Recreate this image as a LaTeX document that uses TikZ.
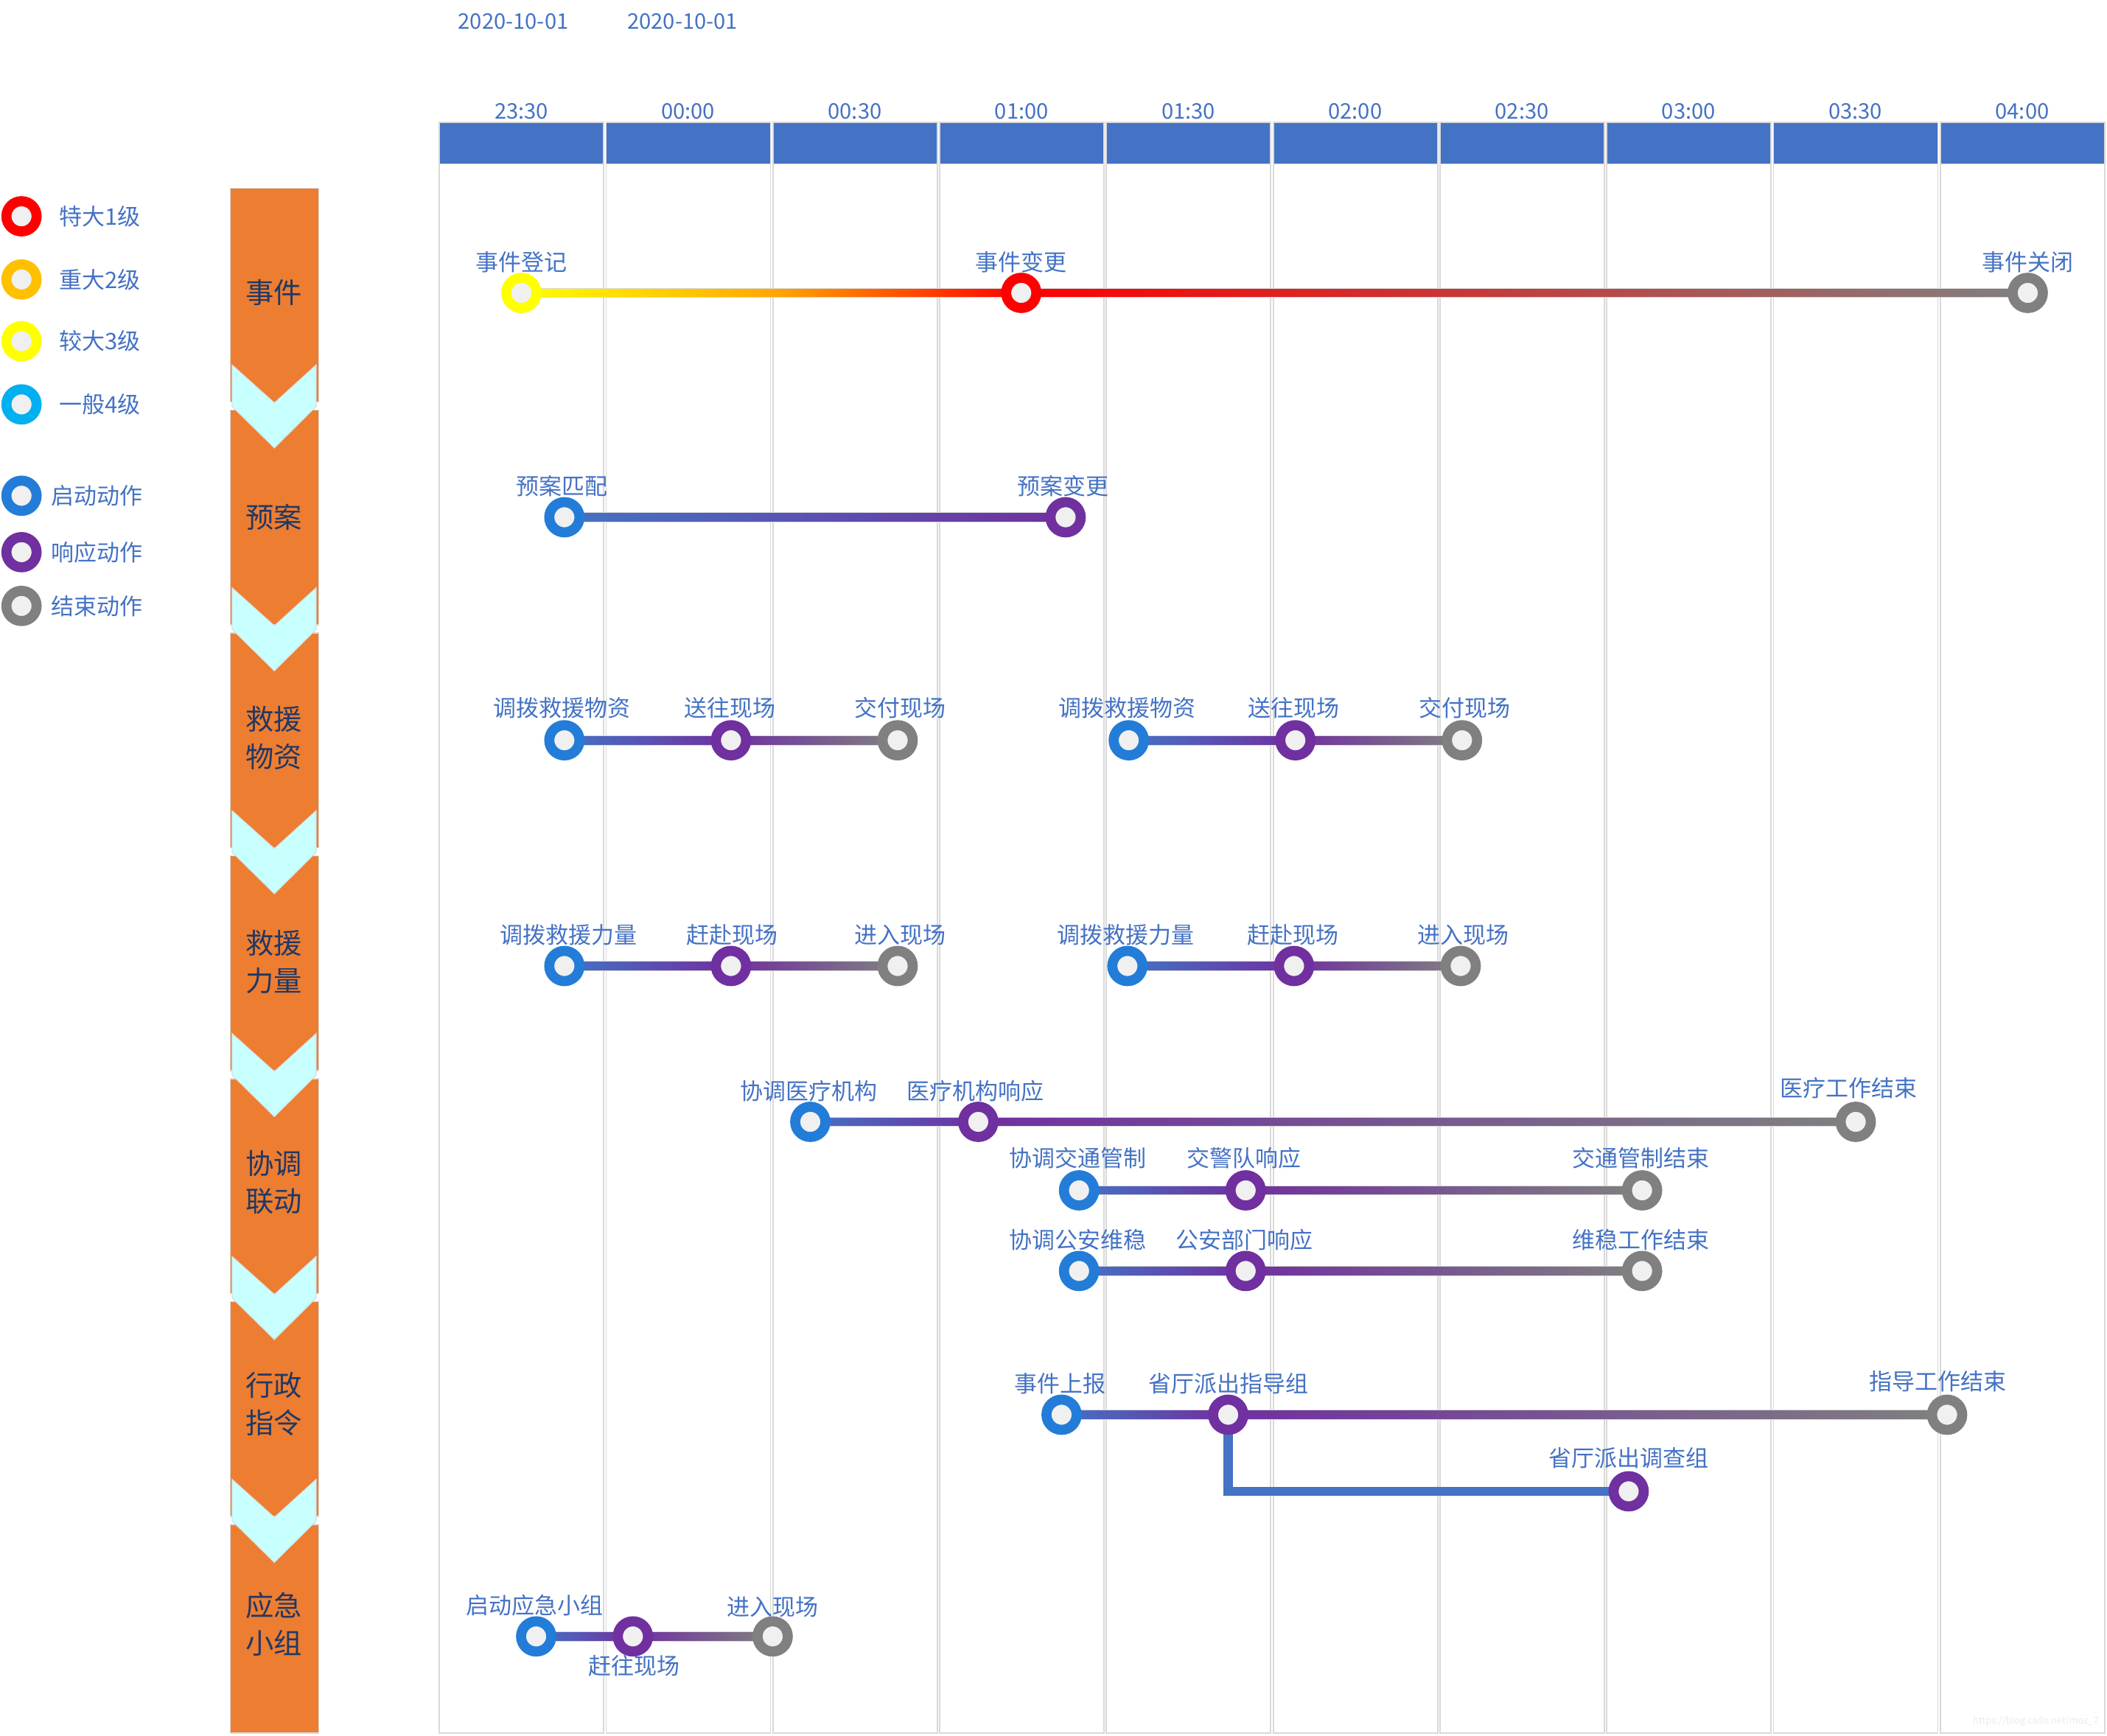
\documentclass[tikz,border=0pt]{standalone}
\usepackage{fontspec}
\setmainfont{Noto Sans CJK SC}
\usetikzlibrary{calc}
\pgfdeclarelayer{bg}
\pgfdeclarelayer{mid}
\pgfsetlayers{bg,mid,main}
\definecolor{hdr}{HTML}{4472C4}
\definecolor{txt}{HTML}{4472C4}
\definecolor{navy}{HTML}{203864}
\definecolor{org}{HTML}{ED7D31}
\definecolor{cyn}{HTML}{C8FFFF}
\definecolor{gridc}{HTML}{D9D9D9}
\definecolor{mblue}{HTML}{237DD8}
\definecolor{mpurp}{HTML}{7030A0}
\definecolor{mgray}{HTML}{808080}
\definecolor{mred}{HTML}{FF0000}
\definecolor{mora}{HTML}{FFC000}
\definecolor{myel}{HTML}{FFFF00}
\definecolor{mcya}{HTML}{00B0F0}
\definecolor{innerc}{HTML}{F0F0F0}
\definecolor{lblue}{HTML}{4472C4}
\definecolor{midora}{HTML}{FFA800}
\begin{document}
\begin{tikzpicture}[x=1pt,y=-1pt,
  mk/.style={circle, draw=#1, line width=7.5pt, fill=innerc, minimum size=22.5pt, inner sep=0pt},
  lbl/.style={text=txt, font=\fontsize{17}{20}\selectfont, inner sep=0pt},
  tlbl/.style={text=txt, font=\fontsize{16}{19}\selectfont, inner sep=0pt},
  rowl/.style={text=navy, font=\fontsize{21}{28}\selectfont, align=center, inner sep=0pt},
  legt/.style={text=txt, font=\fontsize{17}{20}\selectfont, inner sep=0pt, anchor=west},
  ln/.style={draw=gridc, line width=0.6pt},
  colbox/.style={draw=gridc, line width=1pt},
  hdrbox/.style={fill=hdr, draw=gridc, line width=1pt},
  orgbox/.style={fill=org, draw=gridc, line width=0.8pt},
  chev/.style={fill=cyn, draw=gridc, line width=0.6pt},
  branch/.style={draw=lblue, line width=7pt}]
\useasboundingbox (0,0) rectangle (1568,1292);

% ---------- grid columns ----------
\begin{pgfonlayer}{bg}
\foreach \i in {0,...,9}{
  \pgfmathsetmacro\xl{327+124.1*\i}
  \pgfmathsetmacro\xr{\xl+122.3}
  \draw[colbox] (\xl,91) rectangle (\xr,1290);
  \filldraw[hdrbox] (\xl,91) rectangle (\xr,122);
}
\end{pgfonlayer}

% dates
\node[tlbl] (d1) at (382,16) {2020-10-01};
\node[tlbl] (d2) at (508,16) {2020-10-01};

% time labels
\foreach \t [count=\i from 0] in {23:30,00:00,00:30,01:00,01:30,02:00,02:30,03:00,03:30,04:00}{
  \node[tlbl] (t\i) at (388+124.1*\i,83) {\t};
}

% ---------- left process column ----------
\foreach \k in {0,...,6}{
  \pgfmathsetmacro\ys{\k==0 ? 140 : 305.3+(\k-1)*165.9}
  \pgfmathsetmacro\ye{\k==6 ? 1290 : 299.2+\k*165.9}
  \filldraw[orgbox] (171.3,\ys) rectangle (237.1,\ye);
}
\foreach \i in {0,...,5}{
  \pgfmathsetmacro\T{271.5+165.9*\i}
  \filldraw[chev] (172.7,\T) -- (204.2,\T+28.3) -- (235.3,\T) -- (235.3,\T+31)
     -- (204.2,\T+62) -- (172.7,\T+31) -- cycle;
}
\node[rowl] (r1) at (204,218) {事件};
\node[rowl] (r2) at (204,385) {预案};
\node[rowl] (r3) at (204,549) {救援\\物资};
\node[rowl] (r4) at (204,716) {救援\\力量};
\node[rowl] (r5) at (204,880) {协调\\联动};
\node[rowl] (r6) at (204,1045) {行政\\指令};
\node[rowl] (r7) at (204,1209) {应急\\小组};

% ---------- legend ----------
\node[mk=mred]  (lg1) at (16,161) {};
\node[mk=mora]  (lg2) at (16,208) {};
\node[mk=myel]  (lg3) at (16,254) {};
\node[mk=mcya]  (lg4) at (16,301) {};
\node[mk=mblue] (lg5) at (16,369) {};
\node[mk=mpurp] (lg6) at (16,411) {};
\node[mk=mgray] (lg7) at (16,451) {};
\node[legt] (lt1) at (44,161) {特大1级};
\node[legt] (lt2) at (44,208) {重大2级};
\node[legt] (lt3) at (44,254) {较大3级};
\node[legt] (lt4) at (44,301) {一般4级};
\node[legt] (lt5) at (38,369) {启动动作};
\node[legt] (lt6) at (38,411) {响应动作};
\node[legt] (lt7) at (38,451) {结束动作};

% ---------- markers ----------
% 事件
\node[mk=myel]  (e1) at (388,218) {};
\node[mk=mred]  (e2) at (760,218) {};
\node[mk=mgray] (e3) at (1509,218) {};
\node[lbl] (le1) at (388,195) {事件登记};
\node[lbl] (le2) at (760,195) {事件变更};
\node[lbl] (le3) at (1509,195) {事件关闭};
% 预案
\node[mk=mblue] (p1) at (420,385) {};
\node[mk=mpurp] (p2) at (793,385) {};
\node[lbl] (lp1) at (418,362) {预案匹配};
\node[lbl] (lp2) at (791,362) {预案变更};
% 救援物资
\node[mk=mblue] (m1) at (420,551) {};
\node[mk=mpurp] (m2) at (544,551) {};
\node[mk=mgray] (m3) at (668,551) {};
\node[mk=mblue] (m4) at (840,551) {};
\node[mk=mpurp] (m5) at (964,551) {};
\node[mk=mgray] (m6) at (1088,551) {};
\node[lbl] (lm1) at (418,527) {调拨救援物资};
\node[lbl] (lm2) at (543,527) {送往现场};
\node[lbl] (lm3) at (670,527) {交付现场};
\node[lbl] (lm4) at (839,527) {调拨救援物资};
\node[lbl] (lm5) at (963,527) {送往现场};
\node[lbl] (lm6) at (1090,527) {交付现场};
% 救援力量
\node[mk=mblue] (f1) at (420,719) {};
\node[mk=mpurp] (f2) at (544,719) {};
\node[mk=mgray] (f3) at (668,719) {};
\node[mk=mblue] (f4) at (839,719) {};
\node[mk=mpurp] (f5) at (963,719) {};
\node[mk=mgray] (f6) at (1087,719) {};
\node[lbl] (lf1) at (423,696) {调拨救援力量};
\node[lbl] (lf2) at (545,696) {赶赴现场};
\node[lbl] (lf3) at (670,696) {进入现场};
\node[lbl] (lf4) at (838,696) {调拨救援力量};
\node[lbl] (lf5) at (962,696) {赶赴现场};
\node[lbl] (lf6) at (1089,696) {进入现场};
% 协调联动
\node[mk=mblue] (a1) at (603,835) {};
\node[mk=mpurp] (a2) at (728,835) {};
\node[mk=mgray] (a3) at (1381,835) {};
\node[lbl] (la1) at (602,812) {协调医疗机构};
\node[lbl] (la2) at (726,812) {医疗机构响应};
\node[lbl] (la3) at (1376,810) {医疗工作结束};
\node[mk=mblue] (b1) at (803,886) {};
\node[mk=mpurp] (b2) at (927,886) {};
\node[mk=mgray] (b3) at (1222,886) {};
\node[lbl] (lb1) at (802,862) {协调交通管制};
\node[lbl] (lb2) at (926,862) {交警队响应};
\node[lbl] (lb3) at (1221,862) {交通管制结束};
\node[mk=mblue] (c1) at (803,946) {};
\node[mk=mpurp] (c2) at (927,946) {};
\node[mk=mgray] (c3) at (1222,946) {};
\node[lbl] (lc1) at (802,923) {协调公安维稳};
\node[lbl] (lc2) at (926,923) {公安部门响应};
\node[lbl] (lc3) at (1221,923) {维稳工作结束};
% 行政指令
\node[mk=mblue] (x1) at (790,1053) {};
\node[mk=mpurp] (x2) at (914,1053) {};
\node[mk=mgray] (x3) at (1449,1053) {};
\node[mk=mpurp] (x4) at (1212,1110) {};
\node[lbl] (lx1) at (789,1030) {事件上报};
\node[lbl] (lx2) at (914,1030) {省厅派出指导组};
\node[lbl] (lx3) at (1442,1028) {指导工作结束};
\node[lbl] (lx4) at (1212,1085) {省厅派出调查组};
% 应急小组
\node[mk=mblue] (g1) at (399,1218) {};
\node[mk=mpurp] (g2) at (471,1218) {};
\node[mk=mgray] (g3) at (575,1218) {};
\node[lbl] (lg1t) at (398,1195) {启动应急小组};
\node[lbl] (lg2t) at (472,1240) {赶往现场};
\node[lbl] (lg3t) at (575,1196) {进入现场};

% ---------- connectors ----------
\begin{pgfonlayer}{mid}
\shadedraw[ln, left color=myel, right color=mred, middle color=midora] ($(e1.center)+(0,-3.5)$) rectangle ($(e2.center)+(0,3.5)$);
\shadedraw[ln, left color=mred, right color=mgray] ($(e2.center)+(0,-3.5)$) rectangle ($(e3.center)+(0,3.5)$);
\shadedraw[ln, left color=lblue, right color=mpurp] ($(p1.center)+(0,-3.5)$) rectangle ($(p2.center)+(0,3.5)$);
\foreach \s/\e in {m1/m2,m4/m5,f1/f2,f4/f5,a1/a2,b1/b2,c1/c2,x1/x2,g1/g2}{
  \shadedraw[ln, left color=lblue, right color=mpurp] ($(\s.center)+(0,-3.5)$) rectangle ($(\e.center)+(0,3.5)$);
}
\foreach \s/\e in {m2/m3,m5/m6,f2/f3,f5/f6,a2/a3,b2/b3,c2/c3,x2/x3,g2/g3}{
  \shadedraw[ln, left color=mpurp, right color=mgray] ($(\s.center)+(0,-3.5)$) rectangle ($(\e.center)+(0,3.5)$);
}
\draw[branch] (x2.center) |- (x4.center);
\end{pgfonlayer}

% watermark
\node[text=black!8, font=\fontsize{7}{8}\selectfont, anchor=east, inner sep=0pt] (wm) at (1562,1281) {https://blog.csdn.net/moz\_7};
\end{tikzpicture}
\end{document}
